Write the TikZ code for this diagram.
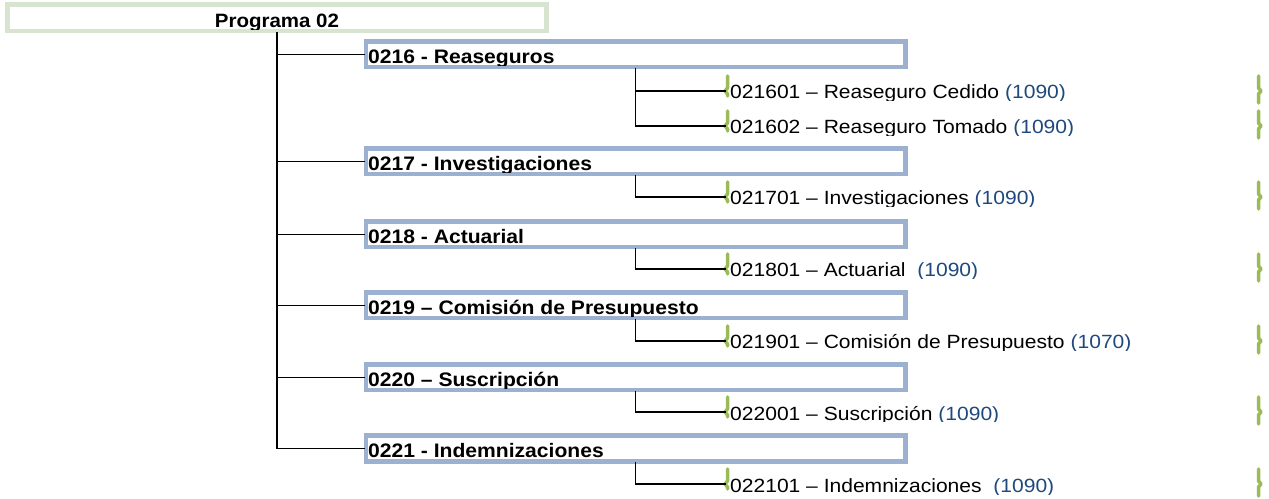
\documentclass[tikz,border=0pt]{standalone}
\usepackage{fontspec}
\setmainfont{Liberation Sans}
\usepackage{graphicx}
\definecolor{boxblue}{HTML}{9BB1CF}
\definecolor{progbox}{HTML}{D7E4CF}
\definecolor{leafgreen}{HTML}{9BBB59}
\definecolor{codeblue}{HTML}{1F497D}
\tikzset{
 catbox/.style={draw=boxblue, line width=3bp, fill=white, minimum width=538bp, minimum height=24bp, inner sep=0pt},
 progstyle/.style={draw=progbox, line width=3bp, fill=white, minimum width=537bp, minimum height=25bp, inner sep=0pt},
 boxline/.style={draw=boxblue, line width=3bp},
 progline/.style={draw=progbox, line width=3bp},
 cattext/.style={anchor=base west, inner sep=0pt, font=\fontsize{19.6}{22}\selectfont\bfseries},
 progtext/.style={anchor=base, inner sep=0pt, font=\fontsize{19.4}{22}\selectfont\bfseries},
 leaftext/.style={anchor=base west, inner sep=0pt, font=\fontsize{19.2}{22}\selectfont},
 mainline/.style={draw=black, line width=2.4bp},
 conn/.style={draw=black, line width=1.8bp},
 bracket/.style={draw=leafgreen, line width=3.5bp, line cap=round, line join=round},
}
\newcommand\catrow[3]{%
 \node[catbox] (c#1) at (635.5,#2+13.5) {};
 \node[cattext] (t#1) at (368,#2+22.5) {\scalebox{1.08}[1]{#3}};
 \draw[boxline] (c#1.north west) rectangle (c#1.south east);
}
\newcommand\leafrow[3]{%
 \coordinate (b#1) at (725.5,#2);
 \begin{scope}
 \clip (700,#2-25) rectangle (1250,#2+10);
 \node[leaftext] (l#1) at (730,#2+8) {\scalebox{1.1}[1]{#3}};
 \end{scope}
 \draw[bracket] (727.5,#2-15) -- (727.5,#2-3) -- (725,#2) -- (727.5,#2+3) -- (727.5,#2+5);
 \draw[bracket] (1258.5,#2-15) -- (1258.5,#2-3) -- (1261,#2) -- (1258.5,#2+3) -- (1258.5,#2+12);
}
\begin{document}
\begin{tikzpicture}[x=1bp,y=-1bp]
\useasboundingbox (0,0) rectangle (1269,499);
% top box
\node[progstyle] (prog) at (277,18) {};
\node[progtext] (progt) at (277,27.5) {\scalebox{1.06}[1]{Programa 02}};
\draw[progline] (prog.north west) rectangle (prog.south east);
% category boxes
\catrow{1}{41}{0216 - Reaseguros}
\catrow{2}{148}{0217 - Investigaciones}
\catrow{3}{221}{0218 - Actuarial}
\catrow{4}{292}{0219 – Comisión de Presupuesto}
\catrow{5}{364}{0220 – Suscripción}
\catrow{6}{435}{0221 - Indemnizaciones}
% main trunk
\draw[mainline] (prog.south) -- (c6.west -| prog.south);
\foreach \i in {1,...,6}{
 \draw[conn] (c\i.west -| prog.south) -- (c\i.west);
}
% leaves
\leafrow{1}{91}{021601 – Reaseguro Cedido \textcolor{codeblue}{(1090)}}
\leafrow{2}{126}{021602 – Reaseguro Tomado \textcolor{codeblue}{(1090)}}
\leafrow{3}{197}{021701 – Investigaciones \textcolor{codeblue}{(1090)}}
\leafrow{4}{269}{021801 – Actuarial~ \textcolor{codeblue}{(1090)}}
\leafrow{5}{341}{021901 – Comisión de Presupuesto \textcolor{codeblue}{(1070)}}
\leafrow{6}{412}{022001 – Suscripción \textcolor{codeblue}{(1090)}}
\leafrow{7}{484}{022101 – Indemnizaciones~ \textcolor{codeblue}{(1090)}}
% sub branches
\draw[conn] (c1.south) |- (b1);
\draw[conn] (c1.south) |- (b2);
\draw[conn] (c2.south) |- (b3);
\draw[conn] (c3.south) |- (b4);
\draw[conn] (c4.south) |- (b5);
\draw[conn] (c5.south) |- (b6);
\draw[conn] (c6.south) |- (b7);
\end{tikzpicture}
\end{document}
